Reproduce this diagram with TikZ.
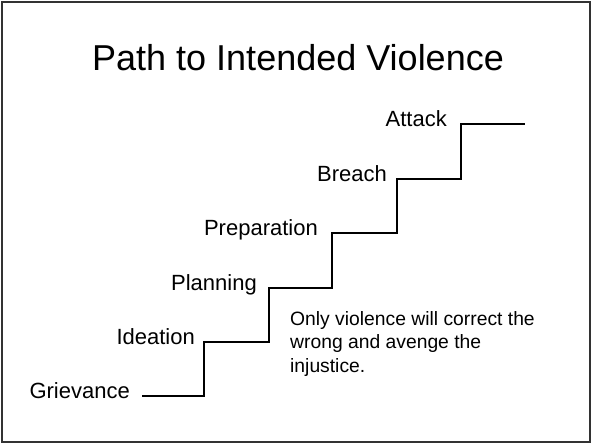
\documentclass[tikz,border=0pt]{standalone}
\usepackage{fontspec}
\setmainfont{Liberation Sans}
\usepackage{tikz}
\usetikzlibrary{positioning}
\definecolor{slideframe}{RGB}{50,50,50}

\begin{document}
\begin{tikzpicture}[x=1pt, y=1pt,
    stair/.style={line width=1.8pt, line join=miter},
    steplabel/.style={inner sep=0pt, font=\fontsize{22}{26}\selectfont}]
    \useasboundingbox (0,0) rectangle (592,444);
    \draw[slideframe, line width=1.5pt] (2,2) rectangle (590,442);

    \node[anchor=base, font=\fontsize{36}{43}\selectfont] (title) at (298,373) {Path to Intended Violence};

    % one corner per step
    \coordinate (grievancestep) at (142,48);
    \coordinate (ideationstep) at (204,102);
    \coordinate (planningstep) at (269,156);
    \coordinate (preparationstep) at (332,211);
    \coordinate (breachstep) at (397,265);
    \coordinate (attackstep) at (461,320);
    \coordinate (topstep) at (525,320);

    \draw[stair] (grievancestep) -| (ideationstep) -| (planningstep) -| (preparationstep)
        -| (breachstep) -| (attackstep) -- (topstep);

    \node[steplabel, left=12pt of grievancestep, anchor=mid east] (grievance) {Grievance};
    \node[steplabel, left=9pt of ideationstep, anchor=mid east] (ideation) {Ideation};
    \node[steplabel, left=12pt of planningstep, anchor=mid east] (planning) {Planning};
    \node[steplabel, left=14pt of preparationstep, anchor=mid east] (preparation) {Preparation};
    \node[steplabel, left=10pt of breachstep, anchor=mid east] (breach) {Breach};
    \node[steplabel, left=14pt of attackstep, anchor=mid east] (attack) {Attack};

    % base of the node is the last line
    \node[anchor=base west, align=left, inner sep=0pt, font=\fontsize{19.3}{23.5}\selectfont] (note) at (290,71.5) {
        Only violence will correct the\\
        wrong and avenge the\\
        injustice.
    };
\end{tikzpicture}
\end{document}
